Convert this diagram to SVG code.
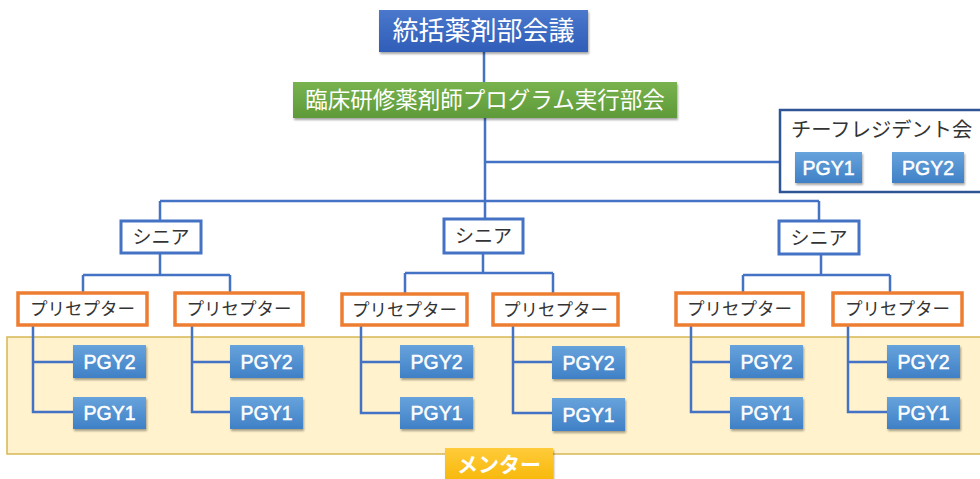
<svg xmlns="http://www.w3.org/2000/svg" width="980" height="479" viewBox="0 0 980 479">
<defs>
<linearGradient id="gBlue" x1="0" y1="0" x2="0" y2="1"><stop offset="0" stop-color="#4a78cc"/><stop offset="1" stop-color="#2f5db8"/></linearGradient>
<linearGradient id="gGreen" x1="0" y1="0" x2="0" y2="1"><stop offset="0" stop-color="#78b34f"/><stop offset="1" stop-color="#5e9a38"/></linearGradient>
<linearGradient id="gPgy" x1="0" y1="0" x2="0" y2="1"><stop offset="0" stop-color="#67a3dc"/><stop offset="1" stop-color="#3f80c6"/></linearGradient>
<linearGradient id="gGold" x1="0" y1="0" x2="0" y2="1"><stop offset="0" stop-color="#ffcb3a"/><stop offset="1" stop-color="#f5b400"/></linearGradient>
<filter id="sh" x="-10%" y="-10%" width="125%" height="140%"><feDropShadow dx="1" dy="2" stdDeviation="1.2" flood-color="#000" flood-opacity="0.35"/></filter>
</defs>
<style>
.jp{font-family:"Noto Sans CJK JP","Noto Sans",sans-serif;}
.wt{fill:#fff;}
.dk{fill:#333;}
.pgy{fill:url(#gPgy);filter:url(#sh);}
.pgyt{font-family:"Liberation Sans","Noto Sans",sans-serif;font-size:19.5px;fill:#fff;stroke:#fff;stroke-width:0.5;text-anchor:middle;}
.sen{fill:#fff;stroke:#4472c4;stroke-width:3;}
.pre{fill:#fff;stroke:#ed7d31;stroke-width:3.5;}
.con{fill:none;stroke:#4472c4;stroke-width:2.5;}
</style>

<rect id="mentor-band" x="7" y="337" width="985" height="117" fill="#fff2cc" stroke="#d6b656" stroke-width="1.5"/>

<g id="connectors">
<path class="con" d="M484 52V82M485 118V218M485 162H780M160 201H819M160 201V221M819 201V220"/>
<path class="con" d="M160 253V275M83 275H230M83 275V293M230 275V293"/>
<path class="con" d="M483 253V273M405 273H553M405 273V294M553 273V294"/>
<path class="con" d="M821 255V275M743 275H890M743 275V293M890 275V293"/>
<path class="con" d="M33 325V412H73M33 362H73"/>
<path class="con" d="M192 325V412H230M192 362H230"/>
<path class="con" d="M361 325V413H400M361 362H400"/>
<path class="con" d="M513 325V413H552M513 362H552"/>
<path class="con" d="M691 325V412H730M691 362H730"/>
<path class="con" d="M848 325V412H887M848 362H887"/>
</g>

<g id="top"><rect x="379" y="10" width="209" height="42" fill="url(#gBlue)" filter="url(#sh)"/><text class="jp wt" x="483.5" y="40" font-size="26" text-anchor="middle">統括薬剤部会議</text></g>
<g id="program"><rect x="293" y="82" width="384" height="36" fill="url(#gGreen)" filter="url(#sh)"/><text class="jp wt" x="485" y="108" font-size="22.5" text-anchor="middle">臨床研修薬剤師プログラム実行部会</text></g>

<g id="chief"><rect x="780" y="110" width="215" height="82" fill="#fff" stroke="#2f5597" stroke-width="2.5"/><text class="jp dk" x="791" y="137" font-size="20.3">チーフレジデント会</text>
<rect class="pgy" x="795" y="152" width="67" height="31"/><text class="pgyt" x="828.5" y="175">PGY1</text>
<rect class="pgy" x="892" y="152" width="72" height="31"/><text class="pgyt" x="928" y="175">PGY2</text></g>

<g id="senior1"><rect class="sen" x="121" y="221" width="80" height="32"/><text class="jp dk" x="161" y="244" font-size="19" text-anchor="middle">シニア</text></g>
<g id="senior2"><rect class="sen" x="444" y="219" width="79" height="34"/><text class="jp dk" x="483.5" y="243" font-size="19" text-anchor="middle">シニア</text></g>
<g id="senior3"><rect class="sen" x="779" y="221" width="80" height="33"/><text class="jp dk" x="819" y="245" font-size="19" text-anchor="middle">シニア</text></g>

<g id="pre1"><rect class="pre" x="18" y="293" width="129" height="32"/><text class="jp dk" x="82.5" y="315" font-size="17.5" text-anchor="middle">プリセプター</text></g>
<g id="pre2"><rect class="pre" x="175" y="293" width="128" height="32"/><text class="jp dk" x="239" y="315" font-size="17.5" text-anchor="middle">プリセプター</text></g>
<g id="pre3"><rect class="pre" x="342" y="294" width="125" height="31"/><text class="jp dk" x="404.5" y="316" font-size="17.5" text-anchor="middle">プリセプター</text></g>
<g id="pre4"><rect class="pre" x="493" y="294" width="125" height="31"/><text class="jp dk" x="555.5" y="316" font-size="17.5" text-anchor="middle">プリセプター</text></g>
<g id="pre5"><rect class="pre" x="676" y="293" width="127" height="32"/><text class="jp dk" x="739.5" y="315" font-size="17.5" text-anchor="middle">プリセプター</text></g>
<g id="pre6"><rect class="pre" x="833" y="293" width="129" height="32"/><text class="jp dk" x="897.5" y="315" font-size="17.5" text-anchor="middle">プリセプター</text></g>

<g id="pgy2-1"><rect class="pgy" x="73" y="345" width="73" height="33"/><text class="pgyt" x="109.5" y="368.5">PGY2</text></g>
<g id="pgy1-1"><rect class="pgy" x="73" y="397" width="73" height="32"/><text class="pgyt" x="109.5" y="420">PGY1</text></g>
<g id="pgy2-2"><rect class="pgy" x="230" y="345" width="73" height="33"/><text class="pgyt" x="266.5" y="368.5">PGY2</text></g>
<g id="pgy1-2"><rect class="pgy" x="230" y="397" width="73" height="32"/><text class="pgyt" x="266.5" y="420">PGY1</text></g>
<g id="pgy2-3"><rect class="pgy" x="400" y="345" width="73" height="33"/><text class="pgyt" x="436.5" y="368.5">PGY2</text></g>
<g id="pgy1-3"><rect class="pgy" x="400" y="397" width="73" height="32"/><text class="pgyt" x="436.5" y="420">PGY1</text></g>
<g id="pgy2-4"><rect class="pgy" x="552" y="346" width="73" height="33"/><text class="pgyt" x="588.5" y="369.5">PGY2</text></g>
<g id="pgy1-4"><rect class="pgy" x="552" y="398" width="73" height="33"/><text class="pgyt" x="588.5" y="421.5">PGY1</text></g>
<g id="pgy2-5"><rect class="pgy" x="730" y="345" width="73" height="33"/><text class="pgyt" x="766.5" y="368.5">PGY2</text></g>
<g id="pgy1-5"><rect class="pgy" x="730" y="397" width="73" height="32"/><text class="pgyt" x="766.5" y="420">PGY1</text></g>
<g id="pgy2-6"><rect class="pgy" x="887" y="345" width="73" height="33"/><text class="pgyt" x="923.5" y="368.5">PGY2</text></g>
<g id="pgy1-6"><rect class="pgy" x="887" y="397" width="73" height="32"/><text class="pgyt" x="923.5" y="420">PGY1</text></g>

<g id="mentor"><rect x="445" y="448" width="108" height="40" fill="url(#gGold)" filter="url(#sh)"/><text class="jp wt" x="499" y="472" font-size="21" font-weight="bold" text-anchor="middle">メンター</text></g>
</svg>
